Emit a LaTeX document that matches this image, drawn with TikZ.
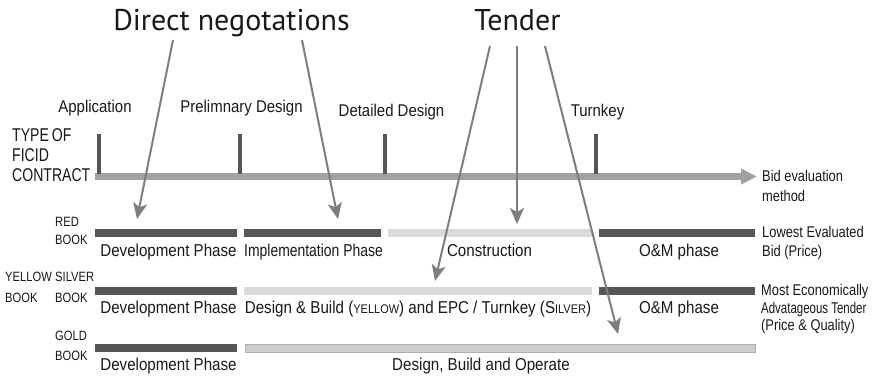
\documentclass[tikz,border=0pt]{standalone}
\usepackage{fontspec}
\setmainfont{Liberation Sans}
\newfontfamily\rowfont[FakeStretch=0.88]{Liberation Sans}
\newfontfamily\rowfontn[FakeStretch=0.81]{Liberation Sans}
\newfontfamily\labfont[FakeStretch=0.83]{Liberation Sans}
\newfontfamily\labfontn[FakeStretch=0.74]{Liberation Sans}
\newfontfamily\typefont[FakeStretch=0.76]{Liberation Sans}
\newfontfamily\titlefont{PT Sans}
\usetikzlibrary{arrows.meta}
\definecolor{darkbar}{RGB}{85,85,90}
\definecolor{lightbar}{RGB}{218,218,218}
\definecolor{goldbar}{RGB}{205,205,205}
\definecolor{goldedge}{RGB}{175,175,178}
\definecolor{axisgray}{RGB}{160,160,165}
\definecolor{arrowgray}{RGB}{125,125,130}
\definecolor{textgray}{RGB}{25,25,25}
\tikzset{
  txt/.style={inner sep=0pt, anchor=base, text=textgray},
  rowtxt/.style={txt, font=\rowfont\fontsize{17.2}{18}\selectfont},
  rowtxtn/.style={txt, font=\rowfontn\fontsize{17.2}{18}\selectfont},
  toptxt/.style={txt, font=\rowfont\fontsize{17}{18}\selectfont},
  booktxt/.style={txt, anchor=base west, font=\labfont\fontsize{13.5}{14}\selectfont},
  typetxt/.style={txt, anchor=base west, font=\typefont\fontsize{18.5}{20}\selectfont},
  righttxt/.style={txt, anchor=base west, font=\labfont\fontsize{15.5}{17}\selectfont},
  righttxtn/.style={txt, anchor=base west, font=\labfontn\fontsize{15.5}{17}\selectfont},
  titletxt/.style={txt, font=\titlefont\fontsize{30}{32}\selectfont},
  pointer/.style={draw=arrowgray, line width=2pt, -{Stealth[length=16pt,width=14pt,inset=4pt]}},
  darkline/.style={draw=darkbar, line width=8pt},
  lightline/.style={draw=lightbar, line width=8pt},
  goldline/.style={fill=goldbar, draw=goldedge, line width=0.6pt},
  tickline/.style={draw=darkbar, line width=4pt},
  axisline/.style={draw=axisgray, line width=7pt, -{Triangle[length=16pt,width=15pt]}}
}
\newcommand{\fsc}[1]{{\fontsize{12.5}{13}\selectfont #1}}
\begin{document}
\begin{tikzpicture}[x=1pt,y=-1pt]
\useasboundingbox[fill=white] (0,0) rectangle (880,379);

% titles
\node[titletxt] (dn) at (231.5,31) {Direct negotations};
\node[titletxt] (td) at (517.5,31) {Tender};

% axis
\coordinate (ax0) at (95,176.5);
\coordinate (ax1) at (757,176.5);
\draw[axisline] (ax0) -- (ax1);
\foreach \x/\n in {98.5/a,240/b,384.5/c,595.5/d}{
  \coordinate (t\n0) at (\x,134);
  \coordinate (t\n1) at (\x,174);
  \draw[tickline] (t\n0) -- (t\n1);
}

% top labels
\node[toptxt] (lapp) at (95,113) {Application};
\node[toptxt] (lpre) at (241.5,113) {Prelimnary Design};
\node[toptxt] (ldet) at (391.5,117) {Detailed Design};
\node[toptxt] (ltur) at (597.5,117) {Turnkey};

% left labels
\node[typetxt] (ty1) at (12,142) {TYPE\kern-1pt\ OF};
\node[typetxt] (ty2) at (12,162) {FICID};
\node[typetxt] (ty3) at (12,182) {CONTRACT};

\node[booktxt] (rb1) at (55,227) {RED};
\node[booktxt] (rb2) at (55,245) {BOOK};
\node[booktxt] (yb1) at (5,281) {YELLOW};
\node[booktxt] (yb2) at (5,302) {BOOK};
\node[booktxt] (sb1) at (55,281) {SILVER};
\node[booktxt] (sb2) at (55,302) {BOOK};
\node[booktxt] (gb1) at (55,340) {GOLD};
\node[booktxt] (gb2) at (55,360) {BOOK};

% right labels
\node[righttxt] (be1) at (762,182) {Bid evaluation};
\node[righttxt] (be2) at (762,202) {method};
\node[righttxt] (le1) at (762,238) {Lowest Evaluated};
\node[righttxt] (le2) at (762,256) {Bid (Price)};
\node[righttxt] (me1) at (761,295) {Most Economically};
\node[righttxtn] (me2) at (761,313) {Advatageous Tender};
\node[righttxt] (me3) at (761,330) {(Price \& Quality)};

% red book bars
\draw[darkline]  (95,233.5) -- (237,233.5);
\draw[darkline]  (244,233.5) -- (381,233.5);
\draw[lightline] (388,233.5) -- (592,233.5);
\draw[darkline]  (599,233.5) -- (755,233.5);
% silver/yellow bars
\draw[darkline]  (95,291) -- (237,291);
\draw[lightline] (244,291) -- (592,291);
\draw[darkline]  (599,291) -- (755,291);
% gold bars
\draw[darkline]  (95,348) -- (237,348);
\draw[goldline]  (245,344) rectangle (755,352);

% row texts
\node[rowtxt] (r1a) at (168.5,257) {Development Phase};
\node[rowtxtn] (r1b) at (313.5,257) {Implementation Phase};
\node[rowtxt] (r1c) at (489.5,257) {Construction};
\node[rowtxt] (r1d) at (679,257) {O\&M phase};
\node[rowtxt] (r2a) at (168.5,313) {Development Phase};
\node[rowtxt] (r2b) at (418,313) {Design \& Build (\fsc{YELLOW}) and EPC / Turnkey (S\fsc{ILVER})};
\node[rowtxt] (r2d) at (679,313) {O\&M phase};
\node[rowtxt] (r3a) at (168.5,370) {Development Phase};
\node[rowtxt] (r3b) at (481,370) {Design, Build and Operate};

% pointers
\coordinate (dnA) at (173,40);
\coordinate (dnAe) at (137,219);
\coordinate (dnB) at (302,40);
\coordinate (dnBe) at (338,219);
\coordinate (tdA) at (490,46);
\coordinate (tdAe) at (435,281);
\coordinate (tdB) at (517,46);
\coordinate (tdBe) at (517,224);
\coordinate (tdC) at (545,46);
\coordinate (tdCe) at (618,334);
\draw[pointer] (dnA) -- (dnAe);
\draw[pointer] (dnB) -- (dnBe);
\draw[pointer] (tdA) -- (tdAe);
\draw[pointer] (tdB) -- (tdBe);
\draw[pointer] (tdC) -- (tdCe);
\end{tikzpicture}
\end{document}
